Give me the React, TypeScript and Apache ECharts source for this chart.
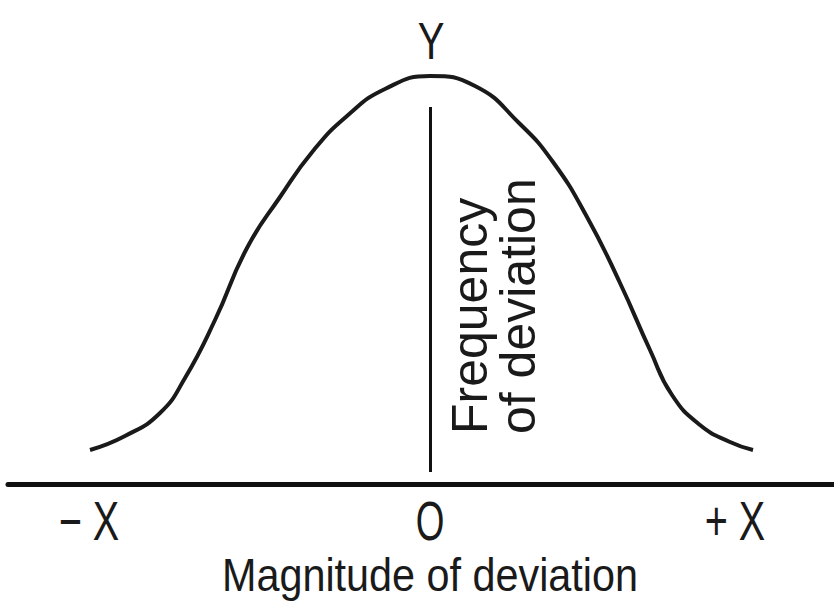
import React, { useEffect, useRef } from "react";
import * as echarts from "echarts";

// Magnitude of deviation (O = 0) and frequency of deviation
const deviation = [
  -3.4, -3.05, -2.7, -2.45, -2.15, -1.83, -1.5, -1.17, -0.83, -0.45, 0,
  0.45, 0.9, 1.23, 1.57, 1.9, 2.2, 2.42, 2.7, 3.0, 3.23,
];
const frequency = [
  0.34, 0.48, 0.71, 1.06, 1.64, 2.36, 2.87, 3.33, 3.68, 3.95, 4.08,
  3.98, 3.6, 3.22, 2.67, 2.01, 1.34, 0.89, 0.59, 0.42, 0.34,
];
// vertical "frequency" stem at O
const stemX = 0;
const stemFrom = 0.12;
const stemTo = 3.77;
// axis tick labels and their positions on the deviation axis
const tickLabels = ["− X", "O", "+ X"];
const tickValues = [-3.41, 0, 3.05];
const xTitle = "Magnitude of deviation";
const yTitle = "Frequency\nof deviation";
const yMark = "Y";

const FONT = "'Liberation Sans', Arial, Helvetica, sans-serif";
const INK = "#1a1a1a";

export default function App() {
  const ref = useRef<HTMLDivElement>(null);
  useEffect(() => {
    if (!ref.current) return;
    const chart = echarts.init(ref.current, null, { renderer: "svg" });
    chart.setOption({
      animation: false,
      backgroundColor: "#ffffff",
      grid: { left: 8, right: 0, top: 34, bottom: 120 },
      xAxis: {
        type: "value",
        min: -4.22,
        max: 4.04,
        axisLine: { show: true, lineStyle: { color: "#111", width: 5 } },
        axisTick: { show: false },
        axisLabel: { show: false },
        splitLine: { show: false },
      },
      yAxis: {
        type: "value",
        min: 0,
        max: 4.5,
        show: false,
        splitLine: { show: false },
      },
      series: [
        {
          type: "line",
          data: deviation.map((d, i) => [d, frequency[i]]),
          smooth: 0.5,
          symbol: "none",
          lineStyle: { color: INK, width: 4 },
          silent: true,
          markLine: {
            silent: true,
            symbol: ["none", "none"],
            label: { show: false },
            lineStyle: { color: "#111", width: 3, type: "solid" },
            data: [[{ coord: [stemX, stemFrom] }, { coord: [stemX, stemTo] }]],
          },
        },
      ],
    });

    const px = (v: number) => chart.convertToPixel({ xAxisIndex: 0 }, v) as number;
    const py = (v: number) => chart.convertToPixel({ yAxisIndex: 0 }, v) as number;
    const baseY = py(0);

    const tickScale = [0.72, 0.67, 0.72];
    chart.setOption({
      graphic: [
        ...tickLabels.map((t, i) => ({
          type: "text",
          x: px(tickValues[i]),
          y: baseY + 37,
          scaleX: tickScale[i],
          style: {
            text: t,
            font: `55px ${FONT}`,
            fill: INK,
            textAlign: "center",
            textVerticalAlign: "middle",
          },
        })),
        {
          type: "text",
          x: px(0),
          y: baseY + 91,
          scaleX: 0.88,
          style: {
            text: xTitle,
            font: `47px ${FONT}`,
            fill: INK,
            textAlign: "center",
            textVerticalAlign: "middle",
          },
        },
        {
          type: "text",
          x: px(0) + 1,
          y: 41,
          scaleX: 0.77,
          style: {
            text: yMark,
            font: `52px ${FONT}`,
            fill: INK,
            textAlign: "center",
            textVerticalAlign: "middle",
          },
        },
        {
          type: "text",
          x: px(0) + 16,
          y: baseY - 50,
          rotation: Math.PI / 2,
          style: {
            text: yTitle,
            font: `50px ${FONT}`,
            lineHeight: 48,
            fill: INK,
            textAlign: "left",
            textVerticalAlign: "top",
          },
        },
      ],
    });

    return () => chart.dispose();
  }, []);
  return (
    <div
      ref={ref}
      style={{ position: "fixed", left: 0, top: 0, width: 834, height: 604, background: "#fff" }}
    />
  );
}
